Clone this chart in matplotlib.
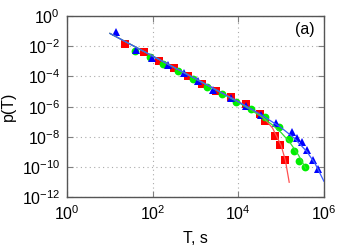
import matplotlib
matplotlib.use('Agg')
import matplotlib.pyplot as plt
import numpy as np

plt.rcParams['font.family'] = ['Liberation Sans', 'DejaVu Sans']
plt.rcParams['mathtext.default'] = 'regular'

# ── data (log10 T, log10 p) ──
red_logT   = [1.35, 1.80, 2.14, 2.49, 2.82, 3.16, 3.49, 3.82, 4.18, 4.51, 4.63, 4.85, 4.98, 5.10]
red_logp   = [-1.87, -2.36, -2.98, -3.46, -3.95, -4.52, -4.99, -5.38, -5.85, -6.51, -6.93, -7.93, -8.54, -9.54]
green_logT = [1.58, 1.93, 2.25, 2.60, 2.94, 3.27, 3.61, 3.94, 4.30, 4.63, 4.96, 5.19, 5.31, 5.43, 5.55]
green_logp = [-2.32, -2.70, -3.18, -3.64, -4.19, -4.68, -5.15, -5.68, -6.13, -6.67, -7.37, -8.15, -8.92, -9.58, -9.98]
blue_logT  = [1.14, 1.61, 1.98, 2.35, 2.72, 3.05, 3.40, 3.83, 4.17, 4.52, 4.89, 5.25, 5.37, 5.48, 5.60, 5.74, 5.86]
blue_logp  = [-1.04, -2.25, -2.80, -3.25, -3.79, -4.30, -4.87, -5.41, -5.96, -6.55, -7.11, -7.70, -8.06, -8.36, -8.87, -9.54, -10.13]

# fit curves, also
red_fit_logT   = [1.0, 2.0, 3.0, 4.0, 4.4, 4.6, 4.8, 5.0, 5.1, 5.19]
red_fit_logp   = [-1.15, -2.65, -4.15, -5.66, -6.34, -6.77, -7.41, -8.56, -9.54, -11.0]
green_fit_logT = [1.0, 2.0, 3.0, 4.0, 4.5, 4.8, 5.0, 5.2, 5.4, 5.58]
green_fit_logp = [-1.15, -2.65, -4.15, -5.71, -6.58, -7.21, -7.71, -8.34, -9.17, -10.1]
blue_fit_logT  = [1.0, 2.0, 3.0, 4.0, 4.5, 5.0, 5.3, 5.6, 5.8, 6.0]
blue_fit_logp  = [-1.15, -2.65, -4.15, -5.67, -6.47, -7.38, -8.06, -8.96, -9.79, -10.93]

p10 = lambda a: 10.0 ** np.asarray(a)

fig = plt.figure(figsize=(3.46, 2.47), dpi=100)
ax = fig.add_axes([0.194, 0.201, 0.742, 0.734])

ax.plot(p10(red_logT), p10(red_logp), 's', color='#ff0000', ms=5.2, mew=0, zorder=3)
ax.plot(p10(green_logT), p10(green_logp), 'o', color='#00ee00', ms=5.6, mew=0, zorder=3)
ax.plot(p10(blue_logT), p10(blue_logp), '^', color='#0000ff', ms=5.4, mew=0, zorder=3)

ax.plot(p10(red_fit_logT), p10(red_fit_logp), '-', color='#ff5050', lw=0.9, zorder=4)
ax.plot(p10(green_fit_logT), p10(green_fit_logp), '-', color='#30e030', lw=0.9, zorder=4)
ax.plot(p10(blue_fit_logT), p10(blue_fit_logp), '-', color='#3a5aff', lw=0.9, zorder=5)

ax.set_xscale('log'); ax.set_yscale('log')
ax.set_xlim(1, 1e6); ax.set_ylim(1e-12, 1)
ax.set_xticks([1e0, 1e2, 1e4, 1e6])
ax.set_yticks([10.0 ** k for k in range(-12, 1, 2)])
ax.minorticks_off()
ax.tick_params(which='both', direction='in', top=True, right=True, length=4,
               color='#808080', labelsize=11.5, pad=5)
for s in ax.spines.values():
    s.set_color('#555555'); s.set_linewidth(1.0)
ax.grid(True, color='#aaaaaa', linestyle=(0, (1, 3)), linewidth=0.8)

ax.set_xlabel('T, s', fontsize=11.5, labelpad=6)
ax.set_ylabel('p(T)', fontsize=11.5, labelpad=4)
ax.text(0.965, 0.965, '(a)', transform=ax.transAxes, ha='right', va='top', fontsize=11.5)

fig.savefig('out.png', dpi=100)
